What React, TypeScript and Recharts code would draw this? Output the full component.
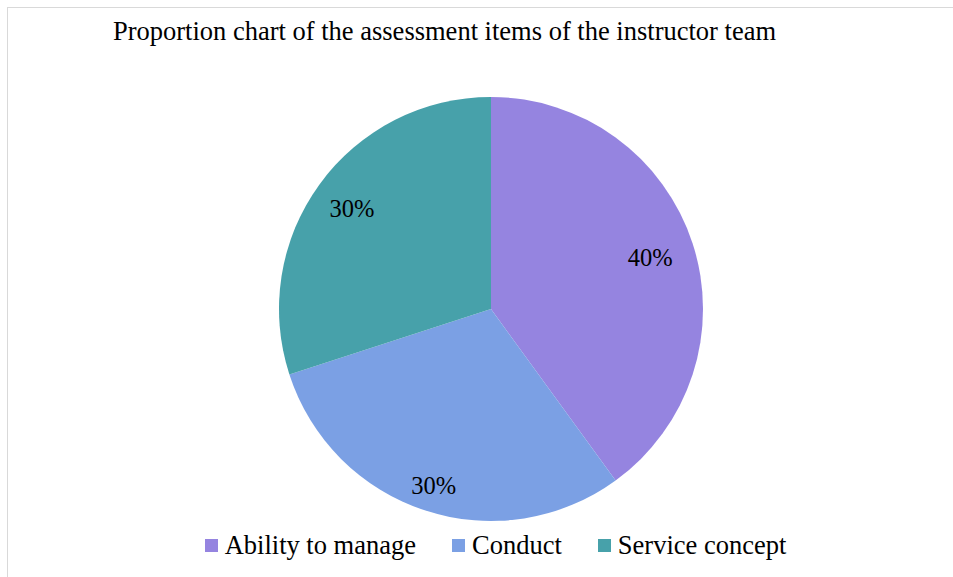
import React from "react";
import { PieChart, Pie, Cell, Legend } from "recharts";

const categories = ["Ability to manage", "Conduct", "Service concept"];
const shares = [40, 30, 30];
const colors = ["#9584E0", "#7BA0E4", "#47A1AA"];
const title = "Proportion chart of the assessment items of the instructor team";

const data = categories.map((name, i) => ({ name, value: shares[i] }));

const FONT = "Liberation Serif, Times New Roman, serif";
const RAD = Math.PI / 180;
const labelRadius = [0.79, 0.875, 0.81];

const renderLabel = (props: any) => {
  const { cx, cy, midAngle, outerRadius, index, percent } = props;
  const r = outerRadius * labelRadius[index];
  const x = cx + r * Math.cos(-midAngle * RAD);
  const y = cy + r * Math.sin(-midAngle * RAD);
  return (
    <text
      key={`lbl-${index}`}
      x={x}
      y={y}
      fill="#000"
      textAnchor="middle"
      dominantBaseline="central"
      fontFamily={FONT}
      fontSize={24.5}
    >
      {`${Math.round(percent * 100)}%`}
    </text>
  );
};

const renderLegend = () => (
  <div
    style={{
      display: "flex",
      justifyContent: "center",
      alignItems: "center",
      fontFamily: FONT,
      fontSize: 26.5,
      lineHeight: "30px",
      color: "#000",
      gap: 36,
    }}
  >
    {categories.map((c, i) => (
      <div key={c} style={{ display: "flex", alignItems: "center", fontFamily: FONT }}>
        <span
          style={{
            display: "inline-block",
            width: 13,
            height: 13,
            background: colors[i],
            marginRight: 7,
          }}
        />
        <span style={{ fontFamily: FONT }}>{c}</span>
      </div>
    ))}
  </div>
);

export default function App() {
  return (
    <div
      style={{
        position: "absolute",
        left: 0,
        top: 0,
        width: 953,
        height: 577,
        overflow: "hidden",
        background: "#fff",
        fontFamily: FONT,
      }}
    >
      <div
        style={{
          position: "absolute",
          left: 7,
          top: 7,
          width: 1000,
          height: 600,
          border: "1px solid #d9d9d9",
          boxSizing: "border-box",
        }}
      />
      <div
        style={{
          position: "absolute",
          left: 0,
          top: 16,
          width: 889,
          textAlign: "center",
          fontFamily: FONT,
          fontSize: 26.5,
          lineHeight: "30px",
          color: "#000",
          whiteSpace: "nowrap",
        }}
      >
        {title}
      </div>
      <div style={{ position: "absolute", left: 0, top: 0 }}>
        <PieChart
          width={953}
          height={577}
          margin={{ top: 0, right: 0, bottom: 0, left: 0 }}
          style={{ fontFamily: FONT }}
        >
          <Pie
            data={data}
            dataKey="value"
            nameKey="name"
            cx={491}
            cy={309}
            outerRadius={212}
            startAngle={90}
            endAngle={-270}
            stroke="none"
            label={renderLabel}
            labelLine={false}
            isAnimationActive={false}
          >
            {data.map((d, i) => (
              <Cell key={d.name} fill={colors[i]} />
            ))}
          </Pie>
          <Legend
            content={renderLegend}
            wrapperStyle={{ position: "absolute", left: 0, top: 530, width: 991 }}
          />
        </PieChart>
      </div>
    </div>
  );
}
